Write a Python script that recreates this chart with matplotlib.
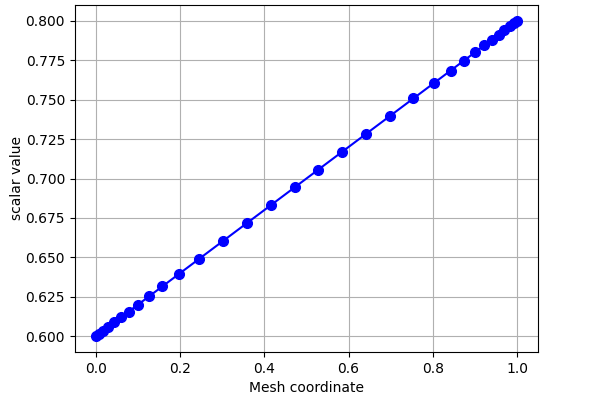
import numpy as np
import matplotlib
matplotlib.use('Agg')
import matplotlib.pyplot as plt

# mesh nodes (clustered near both ends)
mesh_x = [0.0, 0.008, 0.018, 0.030, 0.044, 0.060, 0.078, 0.100, 0.126, 0.158,
          0.198, 0.246, 0.302, 0.358, 0.415, 0.472, 0.528, 0.585, 0.642, 0.698,
          0.754, 0.802, 0.842, 0.874, 0.900, 0.922, 0.940, 0.956, 0.970, 0.982,
          0.992, 1.0]
scalar_y = [0.6000, 0.6016, 0.6036, 0.6060, 0.6088, 0.6120, 0.6156, 0.6200,
            0.6252, 0.6316, 0.6396, 0.6492, 0.6604, 0.6716, 0.6830, 0.6944,
            0.7056, 0.7170, 0.7284, 0.7396, 0.7508, 0.7604, 0.7684, 0.7748,
            0.7800, 0.7844, 0.7880, 0.7912, 0.7940, 0.7964, 0.7984, 0.8000]

fig = plt.figure(figsize=(5.98, 4.0), dpi=100)
ax = fig.add_axes([0.125, 0.12, 0.775, 0.8675])
ax.plot(mesh_x, scalar_y, 'bo-', markersize=7)
ax.set_xlabel('Mesh coordinate')
ax.set_ylabel('scalar value', labelpad=1)
ax.grid(True)
ax.set_xlim(-0.05, 1.05)
ax.set_ylim(0.59, 0.81)
ax.set_xticks(np.arange(0, 1.01, 0.2))
ax.set_yticks(np.arange(0.6, 0.801, 0.025))
ax.yaxis.set_major_formatter(matplotlib.ticker.FormatStrFormatter('%.3f'))
fig.savefig('out.png', dpi=100)
